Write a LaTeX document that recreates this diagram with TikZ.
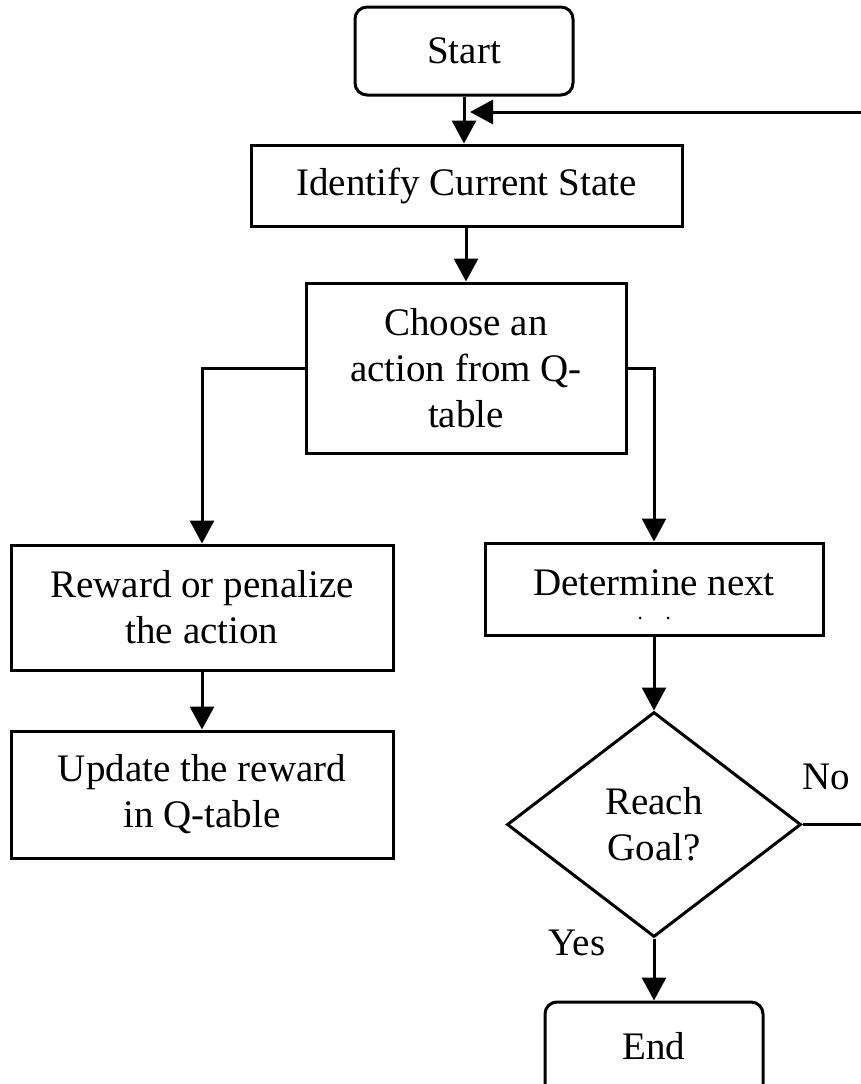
\documentclass[tikz,border=0pt]{standalone}
\usepackage{fontspec}
\setmainfont{Liberation Serif}
\usetikzlibrary{shapes.geometric,arrows.meta}
\begin{document}
\begin{tikzpicture}[x=1pt,y=-1pt,line width=3pt,
  every node/.style={font=\fontsize{39}{46}\selectfont,align=center,inner sep=0pt},
  box/.style={draw,rectangle},
  term/.style={draw,rectangle,rounded corners=12pt},
  decision/.style={draw,diamond},
  flow/.style={-{Triangle[length=23pt,width=24pt]}}]
\useasboundingbox (0,0) rectangle (861,1084);

% process boxes
\node[term,minimum width=218pt,minimum height=88pt] (start) at (464,51) {Start};
\node[box,minimum width=431pt,minimum height=81pt] (identify) at (466.5,185.5) {Identify Current State};
\node[box,minimum width=320pt,minimum height=170pt] (choose) at (466,368) {Choose an\\action from Q-\\table};
\node[box,minimum width=382pt,minimum height=125pt] (reward) at (202,607.5) {Reward or penalize\\the action};
\node[box,minimum width=382pt,minimum height=127pt] (update) at (202,794.5) {Update the reward\\in Q-table};
\node[box,minimum width=338pt,minimum height=92pt] (determine) at (654,589) {};
\node[anchor=base] (dettext) at (654,595) {Determine next};
\fill (640,618) circle (1.5pt);
\fill (668,618) circle (1.5pt);
\node[decision,minimum width=294pt,minimum height=225pt] (goal) at (654,824.5) {Reach\\Goal?};
\node[term,minimum width=218pt,minimum height=104pt] (end) at (654,1054) {\raisebox{17pt}{End}};

% branch labels
\node (no) at (826,777) {No};
\node (yes) at (577,943) {Yes};

% connectors
\coordinate (loopin) at (470,112);
\coordinate (loopcorner) at (876,824.5);
\draw[flow] (start.south) -- (start.south |- identify.north);
\draw[flow] (goal.east) -- (loopcorner) |- (loopin);
\draw[flow] (identify.south -| choose.north) -- (choose.north);
\draw[flow] (choose.west) -| (reward.north);
\draw[flow] (choose.east) -| (determine.north);
\draw[flow] (reward.south) -- (update.north);
\draw[flow] (determine.south) -- (goal.north);
\draw[flow] (goal.south) -- (end.north);
\end{tikzpicture}
\end{document}
